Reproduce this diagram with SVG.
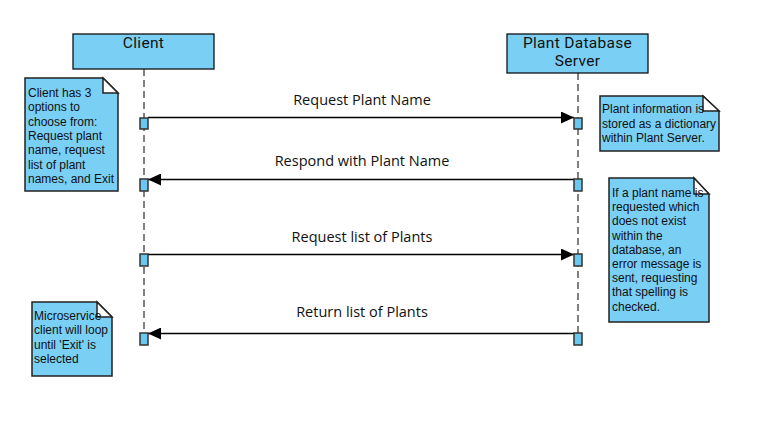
<svg xmlns="http://www.w3.org/2000/svg" width="758" height="439" viewBox="0 0 758 439">
<defs>
<style>
.head{fill:#7ACFF5;stroke:#111;stroke-width:1.3}
.ttl{font-family:Roboto,"Open Sans",sans-serif;font-size:15.5px;fill:#111;text-anchor:middle;letter-spacing:0.3px}
.life{stroke:#808080;stroke-width:2;stroke-dasharray:7 4;fill:none}
.act{fill:#6CC7F0;stroke:#333;stroke-width:1.5}
.msg{stroke:#000;stroke-width:1.3;fill:none}
.lbl{font-family:"Open Sans",sans-serif;font-size:14.5px;fill:#111;text-anchor:middle}
.note{fill:#7ACFF5;stroke:#222;stroke-width:1.5}
.fold{fill:#fff;stroke:#222;stroke-width:1.5;stroke-linejoin:miter}
.nt{font-family:"Liberation Sans",Arial,sans-serif;font-size:12px;fill:#111}
</style>
<marker id="ah" markerWidth="14" markerHeight="12" refX="13" refY="6" orient="auto" markerUnits="userSpaceOnUse">
<path d="M0,0 L13,6 L0,12 Z" fill="#000"/>
</marker>
</defs>
<rect width="758" height="439" fill="#fff"/>

<g id="client">
<line class="life" x1="144" y1="69" x2="144" y2="345"/>
<rect class="head" x="73" y="34" width="141" height="35"/>
<text class="ttl" x="143.5" y="48">Client</text>
</g>

<g id="server">
<line class="life" x1="578" y1="73" x2="578" y2="345"/>
<rect class="head" x="507" y="34" width="141" height="39"/>
<text class="ttl" x="577.5" y="47.5">Plant Database</text>
<text class="ttl" x="577.5" y="66">Server</text>
</g>

<g id="connectors">
<line class="msg" x1="148" y1="117.5" x2="574" y2="117.5" marker-end="url(#ah)"/>
<text class="lbl" x="362" y="105">Request Plant Name</text>
<line class="msg" x1="574" y1="179.5" x2="148" y2="179.5" marker-end="url(#ah)"/>
<text class="lbl" x="362" y="166">Respond with Plant Name</text>
<line class="msg" x1="148" y1="254.5" x2="574" y2="254.5" marker-end="url(#ah)"/>
<text class="lbl" x="362" y="242">Request list of Plants</text>
<line class="msg" x1="574" y1="333.5" x2="148" y2="333.5" marker-end="url(#ah)"/>
<text class="lbl" x="362" y="317">Return list of Plants</text>
</g>

<g id="activations">
<rect class="act" x="140" y="118" width="8" height="11"/>
<rect class="act" x="574" y="118" width="8" height="11"/>
<rect class="act" x="140" y="179" width="8" height="12"/>
<rect class="act" x="574" y="179" width="8" height="12"/>
<rect class="act" x="140" y="254" width="8" height="12"/>
<rect class="act" x="574" y="254" width="8" height="12"/>
<rect class="act" x="140" y="333" width="8" height="12"/>
<rect class="act" x="574" y="333" width="8" height="12"/>
</g>

<g id="note-client">
<path class="note" d="M25,78 H103 L118,93 V191 H25 Z"/>
<path class="fold" d="M103,78 L118,93 H103 Z"/>
<text class="nt"><tspan x="28" y="97">Client has 3</tspan><tspan x="28" y="111.3">options to</tspan><tspan x="28" y="125.6">choose from:</tspan><tspan x="28" y="139.9">Request plant</tspan><tspan x="28" y="154.2">name, request</tspan><tspan x="28" y="168.5">list of plant</tspan><tspan x="28" y="182.8">names, and Exit</tspan></text>
</g>

<g id="note-server">
<path class="note" d="M600,96 H703 L719,111 V151 H600 Z"/>
<path class="fold" d="M703,96 L719,111 H703 Z"/>
<text class="nt"><tspan x="602" y="113">Plant information is</tspan><tspan x="602" y="127.5">stored as a dictionary</tspan><tspan x="602" y="142">within Plant Server.</tspan></text>
</g>

<g id="note-error">
<path class="note" d="M609,178 H694 L709,194 V322 H609 Z"/>
<path class="fold" d="M694,178 L709,194 H694 Z"/>
<text class="nt"><tspan x="612" y="197">If a plant name is</tspan><tspan x="612" y="211.2">requested which</tspan><tspan x="612" y="225.4">does not exist</tspan><tspan x="612" y="239.6">within the</tspan><tspan x="612" y="253.8">database, an</tspan><tspan x="612" y="268">error message is</tspan><tspan x="612" y="282.2">sent, requesting</tspan><tspan x="612" y="296.4">that spelling is</tspan><tspan x="612" y="310.6">checked.</tspan></text>
</g>

<g id="note-loop">
<path class="note" d="M32,302 H97 L112,317 V376 H32 Z"/>
<path class="fold" d="M97,302 L112,317 H97 Z"/>
<text class="nt"><tspan x="34" y="320">Microservice</tspan><tspan x="34" y="334.3">client will loop</tspan><tspan x="34" y="348.6">until 'Exit' is</tspan><tspan x="34" y="362.9">selected</tspan></text>
</g>
</svg>
